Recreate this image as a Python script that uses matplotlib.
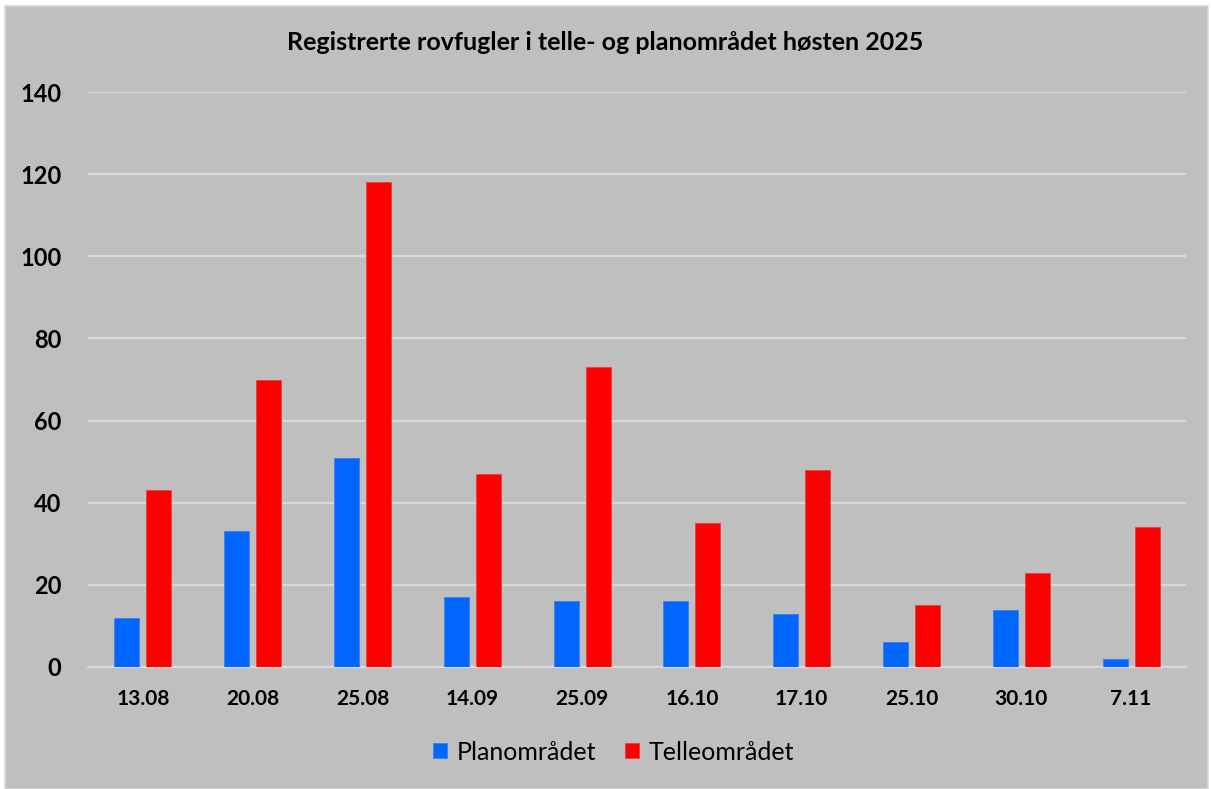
#!/usr/bin/env python3

import numpy as np
import matplotlib
matplotlib.use('Agg')
import matplotlib.pyplot as plt
from matplotlib.patches import Rectangle

# Data
dates = ['13.08', '20.08', '25.08', '14.09', '25.09', '16.10', '17.10', '25.10', '30.10', '7.11']
plan = [12, 33, 51, 17, 16, 16, 13, 6, 14, 2]
telle = [43, 70, 118, 47, 73, 35, 48, 15, 23, 34]
yticks = [0, 20, 40, 60, 80, 100, 120, 140]

plt.rcParams['font.family'] = ['Lato', 'DejaVu Sans']

bg = '#BFBFBF'
grid = '#D9D9D9'

fig = plt.figure(figsize=(12.11, 7.89), dpi=100, facecolor='white')
# chart area with thin border
fig.patches.append(Rectangle((5 / 1211, 0), 1203 / 1211, 783 / 789, transform=fig.transFigure,
                             facecolor=bg, edgecolor=grid, linewidth=1.2, zorder=-1))

ax = fig.add_axes([88 / 1211, 1 - 667 / 789, 1098 / 1211, (667 - 92) / 789])
ax.set_facecolor(bg)

x = np.arange(len(dates))
w = 0.228
off = 0.146
ax.bar(x - off, plan, w, color='#0066FF', edgecolor='#3D7FE8', linewidth=0.6, label='Planområdet', zorder=3)
ax.bar(x + off, telle, w, color='#FF0000', edgecolor='#E84040', linewidth=0.6, label='Telleområdet', zorder=3)

ax.set_xlim(-0.5, len(dates) - 0.5)
ax.set_ylim(0, 140)
ax.set_yticks(yticks)
ax.set_xticks(x)
ax.set_xticklabels(dates)
ax.yaxis.grid(True, color=grid, linewidth=1.6, zorder=0)
ax.set_axisbelow(True)
for s in ['top', 'right', 'left']:
    ax.spines[s].set_visible(False)
ax.spines['bottom'].set_color(grid)
ax.spines['bottom'].set_linewidth(1.6)
ax.tick_params(axis='y', length=0, labelsize=17, pad=19)
ax.tick_params(axis='x', length=0, labelsize=15, pad=16)
for lab in ax.get_xticklabels() + ax.get_yticklabels():
    lab.set_fontweight('bold')

fig.text(0.5, 1 - 43 / 789, 'Registrerte rovfugler i telle- og planområdet høsten 2025',
         ha='center', va='center', fontsize=18, fontweight='bold')

leg = ax.legend(loc='center', bbox_to_anchor=(0.479, -0.148), ncol=2, frameon=False,
                fontsize=18, handlelength=0.55, handleheight=0.55, handletextpad=0.4,
                columnspacing=1.15)

fig.savefig('out.png', dpi=100, facecolor=fig.get_facecolor())
